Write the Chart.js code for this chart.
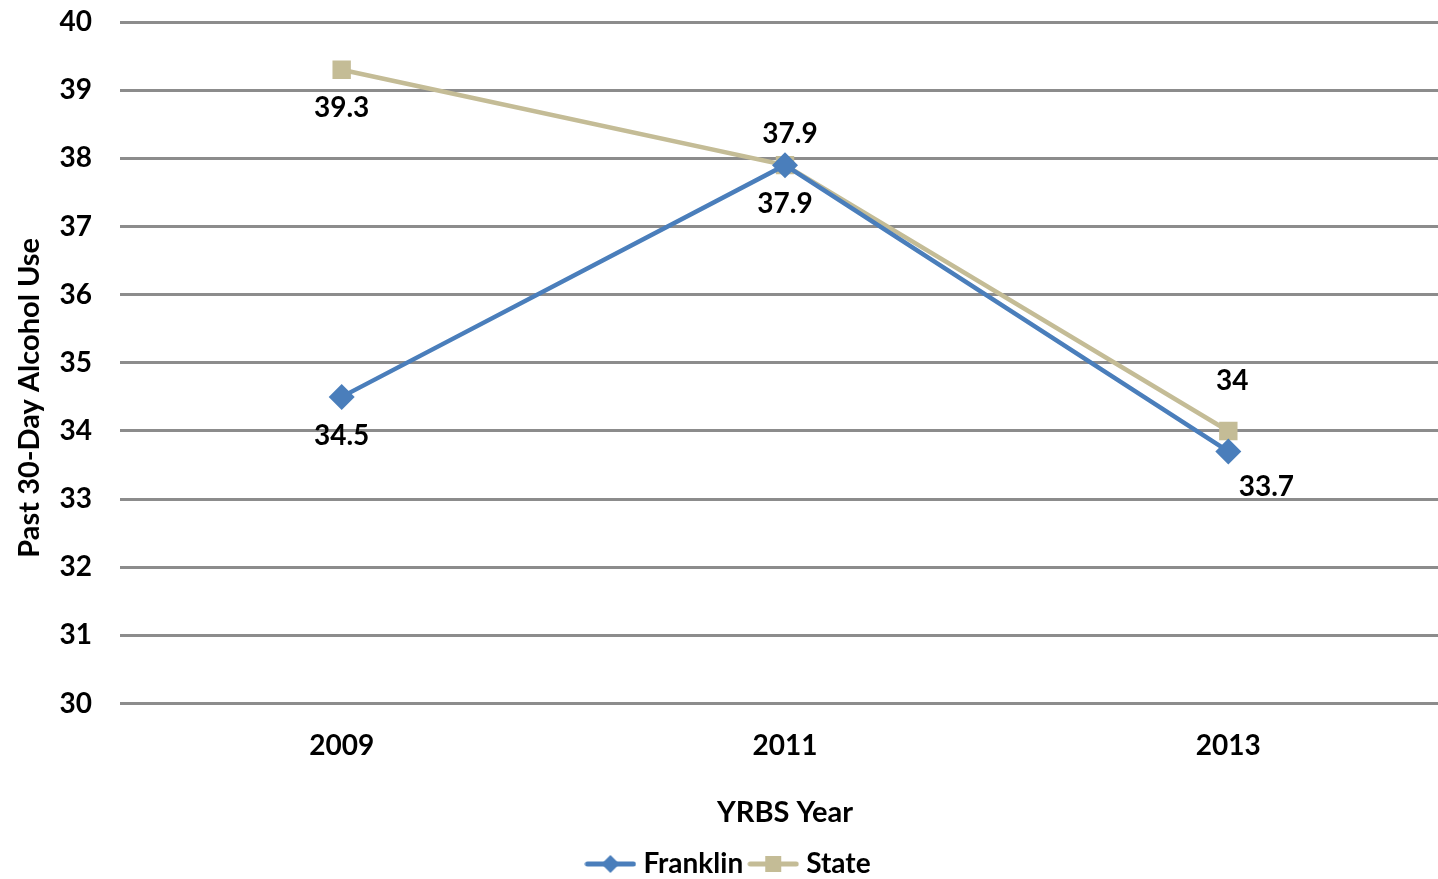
<!DOCTYPE html>
<html>
<head>
<meta charset="utf-8">
<script src="https://cdn.jsdelivr.net/npm/chart.js@4"></script>
<style>
  html, body { margin: 0; padding: 0; background: #fff; overflow: hidden; }
  canvas { display: block; }
</style>
</head>
<body>
<canvas id="c" width="1438" height="879" style="width:1438px;height:879px"></canvas>
<script>
// ---- data ----
const years = ['2009', '2011', '2013'];
const franklin = [34.5, 37.9, 33.7];
const state = [39.3, 37.9, 34];
const yTicks = [30, 31, 32, 33, 34, 35, 36, 37, 38, 39, 40];

// ---- style ----
const FONT = 'Lato, "Open Sans", sans-serif';
const blue = '#4A7EBB';
const tan = '#C4BC96';
// label offsets [dx, dy] in pixels per series/point
const labelOffsets = {
  0: [[0, 39], [0, 39], [38, 36]],
  1: [[0, 38], [5, -31], [4, -50]]
};

function legendIcon(color, shape) {
  const c = document.createElement('canvas');
  c.width = 52; c.height = 24;
  const g = c.getContext('2d');
  g.strokeStyle = color; g.lineWidth = 5; g.lineCap = 'round';
  g.beginPath(); g.moveTo(3, 12); g.lineTo(49, 12); g.stroke();
  g.fillStyle = color;
  if (shape === 'diamond') {
    g.beginPath(); g.moveTo(26, 3); g.lineTo(35, 12); g.lineTo(26, 21); g.lineTo(17, 12); g.closePath(); g.fill();
  } else {
    g.fillRect(18, 4, 16, 16);
  }
  return c;
}

// Layout fine-tuning: plot area runs slightly past the right edge (as in the original),
// legend sits a bit lower, y-axis title is centred slightly below the plot centre.
const layoutTweak = {
  id: 'layoutTweak',
  afterLayout(chart) {
    const xs = chart.scales.x;
    const extra = chart.width + 12 - xs.right;
    xs.right += extra; xs.width += extra; xs.configure();
    chart.chartArea.right += extra; chart.chartArea.width += extra;
    const ys = chart.scales.y;
    ys.bottom += 70;
    const lg = chart.legend;
    lg.top += 9; lg.bottom += 9; lg.left += 12; lg.right += 12;
  }
};

const labelPlugin = {
  id: 'valueLabels',
  afterDatasetsDraw(chart) {
    const ctx = chart.ctx;
    ctx.save();
    ctx.font = 'bold 28px ' + FONT;
    ctx.fillStyle = '#000';
    ctx.textAlign = 'center';
    ctx.textBaseline = 'middle';
    chart.data.datasets.forEach((ds, di) => {
      const meta = chart.getDatasetMeta(di);
      meta.data.forEach((pt, i) => {
        const off = labelOffsets[di][i];
        ctx.fillText(String(ds.data[i]), pt.x + off[0], pt.y + off[1]);
      });
    });
    ctx.restore();
  }
};

new Chart(document.getElementById('c'), {
  type: 'line',
  data: {
    labels: years,
    datasets: [
      {
        label: 'Franklin', data: franklin,
        borderColor: blue, backgroundColor: blue,
        borderWidth: 4.5, pointStyle: 'rectRot', pointRadius: 13, pointHoverRadius: 13,
        pointBorderWidth: 0, tension: 0
      },
      {
        label: 'State', data: state,
        borderColor: tan, backgroundColor: tan,
        borderWidth: 4.5, pointStyle: 'rect', pointRadius: 13, pointHoverRadius: 13,
        pointBorderWidth: 0, tension: 0
      }
    ]
  },
  options: {
    responsive: false,
    animation: false,
    devicePixelRatio: 1,
    layout: { padding: { top: 22, right: 0, bottom: 0, left: 0 } },
    plugins: {
      legend: {
        position: 'bottom',
        labels: {
          usePointStyle: true,
          pointStyleWidth: 38,
          color: '#000',
          font: { family: FONT, size: 28, weight: 'bold' },
          padding: 11,
          generateLabels(chart) {
            return chart.data.datasets.map((ds, i) => ({
              text: ds.label,
              pointStyle: legendIcon(ds.borderColor, i === 0 ? 'diamond' : 'square'),
              fillStyle: ds.borderColor, strokeStyle: ds.borderColor, lineWidth: 0,
              hidden: false, datasetIndex: i, fontColor: '#000'
            }));
          }
        }
      },
      tooltip: { enabled: false }
    },
    scales: {
      x: {
        offset: true,
        grid: { display: false, drawTicks: false },
        border: { display: false },
        ticks: { color: '#000', font: { family: FONT, size: 28, weight: 'bold' }, padding: 26 },
        title: {
          display: true, text: 'YRBS Year', color: '#000',
          font: { family: FONT, size: 29, weight: 'bold' }, padding: { top: 6, bottom: 0 }
        }
      },
      y: {
        min: 30, max: 40,
        afterBuildTicks(scale) { scale.ticks = yTicks.map(v => ({ value: v })); },
        afterFit(scale) { scale.width = 120; scale.paddingTop = 0; scale.paddingBottom = 0; },
        grid: { color: '#8C8C8C', lineWidth: 3, drawTicks: false },
        border: { display: false },
        ticks: { color: '#000', font: { family: FONT, size: 28, weight: 'bold' }, padding: 28 },
        title: {
          display: true, text: 'Past 30-Day Alcohol Use', color: '#000',
          font: { family: FONT, size: 29, weight: 'bold' }, padding: { top: 12, bottom: 4 }
        }
      }
    }
  },
  plugins: [layoutTweak, labelPlugin]
});
</script>
</body>
</html>
